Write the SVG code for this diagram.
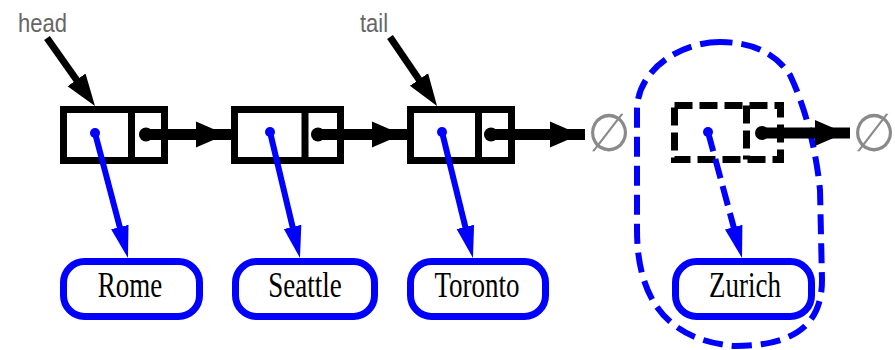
<svg xmlns="http://www.w3.org/2000/svg" width="895" height="350" viewBox="0 0 895 350">
  <style>
    .box { fill: #fff; stroke: #000; stroke-width: 7; }
    .div { stroke: #000; stroke-width: 7; }
    .dashed { stroke-dasharray: 18 7; }
    .elem { fill: #fff; stroke: #0000ff; stroke-width: 7; }
    .name { font-family: "Liberation Serif", "Times New Roman", serif; font-size: 27px; fill: #000; text-anchor: middle; }
    .lbl { font-family: "Liberation Sans", Arial, sans-serif; font-size: 22px; fill: #666; }
    .nil { font-family: "DejaVu Sans", sans-serif; font-size: 50px; fill: #8a8a8a; text-anchor: middle; }
    .next { stroke: #000; stroke-width: 11; fill: none; }
    .ptr { stroke: #000; stroke-width: 7; fill: none; }
    .ref { stroke: #0000ff; stroke-width: 6; fill: none; }
    .dot { fill: #000; }
    .bdot { fill: #0000ff; }
  </style>
  <defs>
    <marker id="arrNext" markerUnits="userSpaceOnUse" markerWidth="40" markerHeight="30" viewBox="0 -15 40 30" refX="35" refY="0" orient="auto">
      <path d="M0,-13 L30,0 L0,13 z" fill="#000"/>
    </marker>
    <marker id="arrPtr" markerUnits="userSpaceOnUse" markerWidth="40" markerHeight="30" viewBox="0 -15 40 30" refX="14" refY="0" orient="auto">
      <path d="M0,-11 L32,0 L0,11 z" fill="#000"/>
    </marker>
    <marker id="arrRef" markerUnits="userSpaceOnUse" markerWidth="40" markerHeight="24" viewBox="0 -12 40 24" refX="20" refY="0" orient="auto">
      <path d="M0,-9 L32,0 L0,9 z" fill="#0000ff"/>
    </marker>
  </defs>

  <!-- list pointers -->
  <g id="head">
    <text class="lbl" transform="translate(18,32) scale(1,1.2)">head</text>
  </g>
  <g id="tail">
    <text class="lbl" transform="translate(360,32) scale(1,1.2)">tail</text>
  </g>

  <!-- nodes -->
  <g id="node1">
    <rect class="box" x="63.5" y="109.5" width="101" height="51"/>
    <line class="div" x1="131.5" y1="109.5" x2="131.5" y2="160.5"/>
  </g>
  <g id="node2">
    <rect class="box" x="234.5" y="109.5" width="106" height="51"/>
    <line class="div" x1="305" y1="109.5" x2="305" y2="160.5"/>
  </g>
  <g id="node3">
    <rect class="box" x="410.5" y="109.5" width="101" height="51"/>
    <line class="div" x1="478.5" y1="109.5" x2="478.5" y2="160.5"/>
  </g>
  <g id="nodeNew">
    <rect class="box dashed" x="674.5" y="105.5" width="106" height="54"/>
    <line class="div dashed" x1="746.5" y1="105.5" x2="746.5" y2="159.5"/>
  </g>

  <!-- elements -->
  <g id="rome">
    <rect class="elem" x="63.5" y="261.5" width="136" height="55" rx="21" ry="21"/>
    <text class="name" transform="translate(130,297) scale(1,1.3)">Rome</text>
  </g>
  <g id="seattle">
    <rect class="elem" x="235.5" y="261.5" width="139" height="55" rx="21" ry="21"/>
    <text class="name" transform="translate(305,297) scale(1,1.3)">Seattle</text>
  </g>
  <g id="toronto">
    <rect class="elem" x="410.5" y="261.5" width="135" height="55" rx="21" ry="21"/>
    <text class="name" transform="translate(477,297) scale(1,1.3)">Toronto</text>
  </g>
  <g id="zurich">
    <rect class="elem" x="675.5" y="261.5" width="136" height="55" rx="21" ry="21"/>
    <text class="name" transform="translate(745,297) scale(1,1.3)">Zurich</text>
  </g>

  <!-- null references -->
  <g id="null1">
    <text class="nil" transform="translate(609,151) scale(1,1.05)">∅</text>
  </g>
  <g id="null2">
    <text class="nil" transform="translate(874,151) scale(1,1.05)">∅</text>
  </g>

  <!-- new entry outline -->
  <g id="newEntry">
    <path d="M720,42 C680,42 637,70 637,110 L637,230 C637,290 660,340 735,346 C800,346 822,320 822,280 L820,190 C815,140 802,100 790,75 C775,52 750,42 720,42 Z" fill="none" stroke="#0000ff" stroke-width="6" stroke-dasharray="20 9"/>
  </g>

  <!-- connectors -->
  <g id="connectors">
    <line class="ptr" x1="47" y1="38" x2="84.6" y2="91.3" marker-end="url(#arrPtr)"/>
    <line class="ptr" x1="390" y1="37" x2="426.9" y2="91.1" marker-end="url(#arrPtr)"/>

    <circle class="dot" cx="146" cy="134.5" r="7"/>
    <line class="next" x1="146" y1="134.5" x2="231" y2="134.5" marker-end="url(#arrNext)"/>
    <circle class="dot" cx="318" cy="134.5" r="7"/>
    <line class="next" x1="318" y1="134.5" x2="407" y2="134.5" marker-end="url(#arrNext)"/>
    <circle class="dot" cx="491" cy="134.5" r="7"/>
    <line class="next" x1="491" y1="134.5" x2="585" y2="134.5" marker-end="url(#arrNext)"/>
    <circle class="dot" cx="762" cy="133" r="7"/>
    <line class="next" x1="762" y1="133" x2="850" y2="133" stroke-width="9" marker-end="url(#arrNext)"/>

    <circle class="bdot" cx="95" cy="133" r="5"/>
    <line class="ref" x1="95" y1="133" x2="124.9" y2="246.4" marker-end="url(#arrRef)"/>
    <circle class="bdot" cx="270" cy="132" r="5"/>
    <line class="ref" x1="270" y1="132" x2="297.2" y2="246.3" marker-end="url(#arrRef)"/>
    <circle class="bdot" cx="442" cy="132" r="5"/>
    <line class="ref" x1="442" y1="132" x2="470.1" y2="246.3" marker-end="url(#arrRef)"/>
    <circle class="bdot" cx="708" cy="132" r="5"/>
    <line class="ref" x1="708" y1="132" x2="738.9" y2="246.4" stroke-dasharray="20 8" marker-end="url(#arrRef)"/>
  </g>
</svg>
